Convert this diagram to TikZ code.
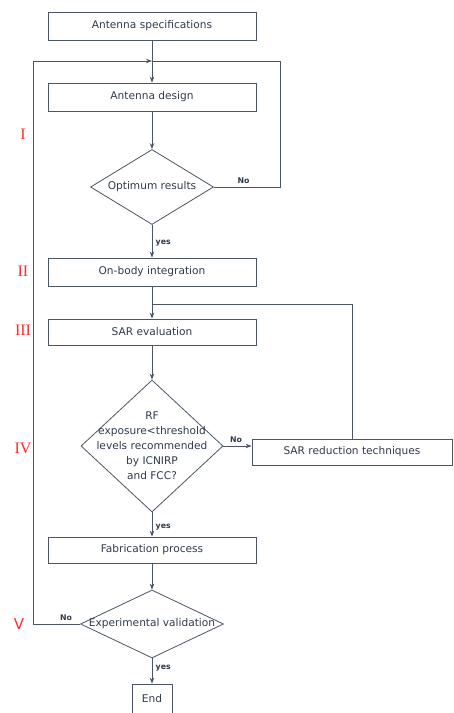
\documentclass[tikz,border=0pt]{standalone}
\usepackage{fontspec}
\setmainfont{DejaVu Sans}
\newfontfamily\numfont{Liberation Serif}
\usetikzlibrary{shapes.geometric,arrows.meta}
\definecolor{linegray}{HTML}{4A5566}
\definecolor{textgray}{HTML}{2E3A4A}
\definecolor{stepred}{HTML}{FF2B2B}
\begin{document}
\begin{tikzpicture}[
		x=1pt,y=-1pt,
		every node/.style={text=textgray,font=\fontsize{10.6}{15}\selectfont},
		box/.style={rectangle,draw=linegray,line width=0.8pt,minimum width=208pt,minimum height=28pt,inner sep=0pt},
		decision/.style={diamond,draw=linegray,line width=0.8pt,inner sep=0pt},
		flow/.style={draw=linegray,line width=0.8pt,-{Stealth[length=6pt,width=4.5pt]}},
		link/.style={draw=linegray,line width=0.8pt},
		answer/.style={font=\fontsize{7.8}{9}\selectfont\bfseries},
		phase/.style={text=stepred,font=\fontsize{16}{18}\selectfont\numfont}
		]
		\useasboundingbox (0,0) rectangle (453,713);
		\node[box] (spec) at (152,26) {Antenna specifications};
		\node[box] (design) at (152,97) {Antenna design};
		\node[decision,minimum width=123pt,minimum height=75pt] (optimum) at (152,187) {\makebox[0pt]{Optimum results}};
		\node[box] (onbody) at (152,272) {On-body integration};
		\node[box,minimum height=26pt] (sareval) at (152,332) {SAR evaluation};
		\node[decision,minimum width=142pt,minimum height=132pt] (rfcheck) at (152,446)
			{\makebox[0pt]{\begin{tabular}{@{}c@{}}RF\\exposure<threshold\\levels recommended\\by ICNIRP\\and FCC?\end{tabular}}};
		\node[box,minimum width=200pt,minimum height=26pt] (sarred) at (352,452) {SAR reduction techniques};
		\node[box,minimum height=26pt] (fab) at (152,550) {Fabrication process};
		\node[decision,minimum width=143pt,minimum height=68pt] (expval) at (152,624) {\makebox[0pt]{Experimental validation}};
		\node[box,minimum width=40pt,minimum height=30pt] (end) at (152,699) {End};
		\coordinate (top) at (152,61);
		\coordinate (join) at (152,304);
		\node[phase] (p1) at (23,134) {I};
		\node[phase] (p2) at (23,271) {II};
		\node[phase] (p3) at (23,330) {III};
		\node[phase] (p4) at (23,448) {IV};
		\node[phase,font=\fontsize{15}{18}\selectfont] (p5) at (19,624) {V};
		\draw[flow] (spec) -- (design);
		\draw[flow] (design) -- (optimum);
		\draw[link] (optimum.east) -- ++(66,0) node[answer,pos=0.45,above] {No} |- (top);
		\draw[flow] (optimum) -- node[answer,right,pos=0.55] {yes} (onbody);
		\draw[flow] (onbody) -- (sareval);
		\draw[flow] (sareval) -- (rfcheck);
		\draw[flow] (rfcheck.east) -- node[answer,above,pos=0.45] {No} (sarred.west |- rfcheck.east);
		\draw[link] (sarred.north) |- (join);
		\draw[flow] (rfcheck) -- node[answer,right,pos=0.6] {yes} (fab);
		\draw[flow] (fab) -- (expval);
		\draw[flow] (expval.west) -- ++(-47,0) node[answer,above,pos=0.3] {No} |- (top);
		\draw[flow] (expval) -- node[answer,right,pos=0.4] {yes} (end);
	\end{tikzpicture}
\end{document}
